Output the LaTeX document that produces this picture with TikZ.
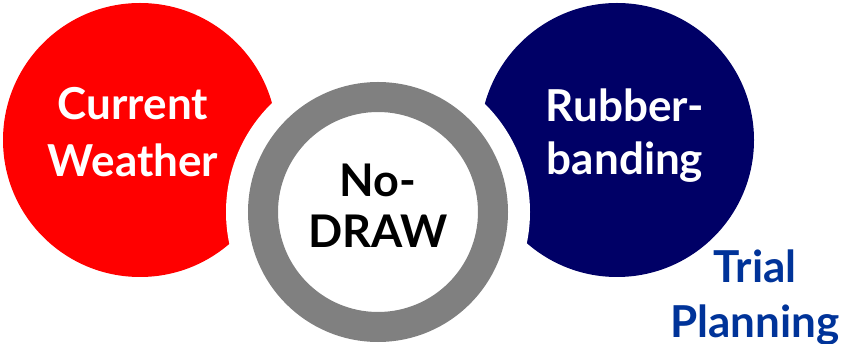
\documentclass[tikz,border=0pt]{standalone}
\usepackage{fontspec}
\setmainfont{Lato}
\definecolor{navyblue}{RGB}{0,0,102}
\definecolor{trialblue}{RGB}{0,51,153}
\definecolor{ringgray}{RGB}{128,128,128}
\begin{document}
\begin{tikzpicture}[x=1pt, y=-1pt]
    % Styles
    \tikzstyle{bubble} = [circle, inner sep=0pt, minimum size=274pt]
    \tikzstyle{bubbletext} = [font=\fontsize{44}{57}\selectfont\bfseries,
        align=center, text=white, anchor=base, inner sep=0pt]

    \useasboundingbox (0,0) rectangle (841,344);

    % === Circles ===
    \node [bubble, fill=red] (weather) at (140,140) {};
    \node [bubble, fill=navyblue] (rubber) at (617,140) {};

    % white gap round the ring
    \node [circle, fill=white, inner sep=0pt, minimum size=304pt] (gap) at (378,212) {};

    % gray ring
    \node [circle, draw=ringgray, fill=white, line width=30pt, inner sep=0pt,
        minimum size=230pt] (nodraw) at (378,212) {};

    % === Labels ===
    \node [bubbletext] (weathertxt) at (133,177) {Current\\Weather};
    \node [bubbletext, text=black, font=\fontsize{45}{51}\selectfont\bfseries] (nodrawtxt) at (378,248) {No-\\DRAW};
    \node [bubbletext, font=\fontsize{44}{53}\selectfont\bfseries] (rubbertxt) at (625,175) {Rubber-\\banding};
    \node [bubbletext, text=trialblue, font=\fontsize{44}{55}\selectfont\bfseries] (trialtxt) at (755,338) {Trial\\Planning};

\end{tikzpicture}
\end{document}
